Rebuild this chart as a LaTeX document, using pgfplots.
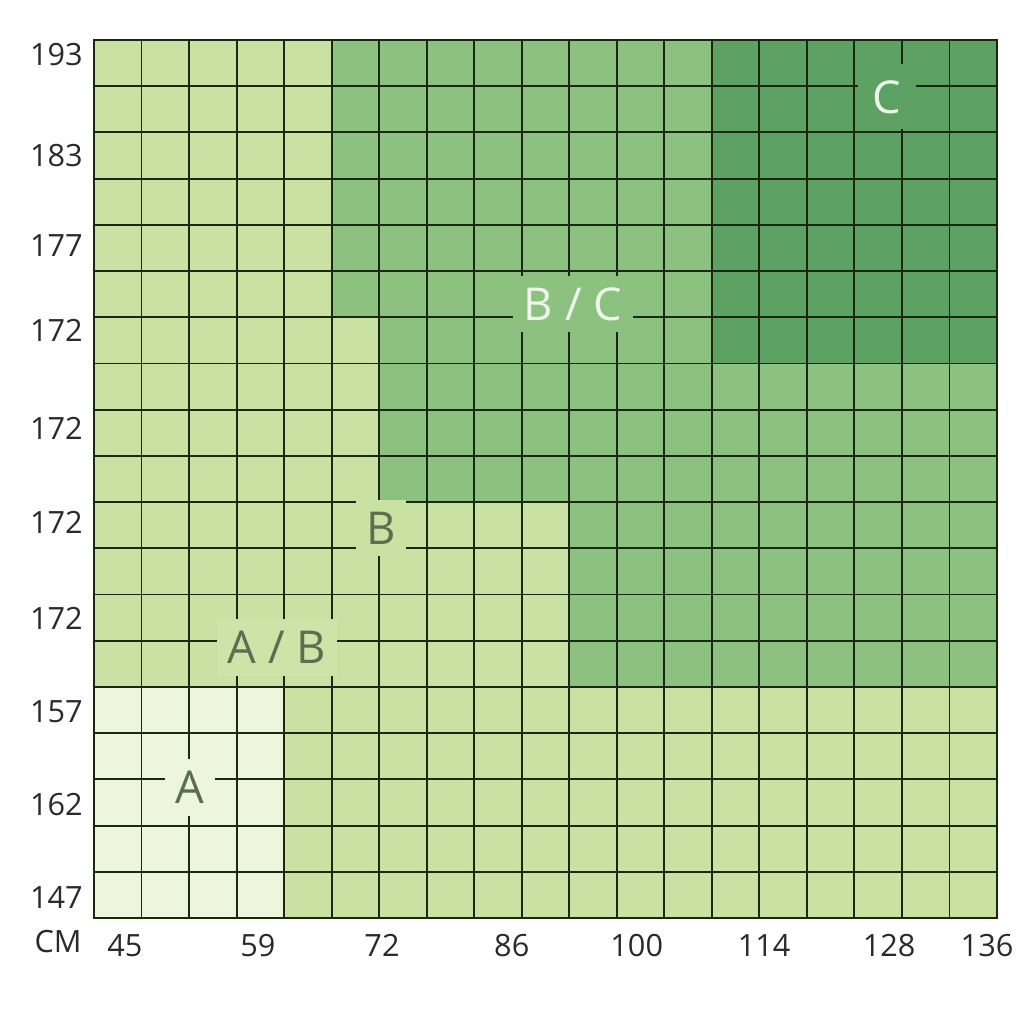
\documentclass[border=0pt]{standalone}
\usepackage{pgfplots}
\pgfplotsset{compat=1.18}
\usepackage{pgfplotstable}
\usepackage{fontspec}
\setmainfont{Open Sans}
\definecolor{cA}{HTML}{EDF5DC}
\definecolor{cL}{HTML}{C9E2A3}
\definecolor{cM}{HTML}{8DC180}
\definecolor{cD}{HTML}{5DA163}
\definecolor{gridc}{HTML}{1A2812}
\definecolor{tickc}{HTML}{2A2A2A}
\definecolor{labdark}{HTML}{5A6E50}
\definecolor{labwhite}{HTML}{EEF6EA}

% cell classes: 0 = A, 1 = B (light), 2 = B/C (medium), 3 = C (dark)
\pgfplotstableread[row sep=\\]{
x y c\\
0 0 0\\ 1 0 0\\ 2 0 0\\ 3 0 0\\ 4 0 1\\ 5 0 1\\ 6 0 1\\ 7 0 1\\ 8 0 1\\ 9 0 1\\ 10 0 1\\ 11 0 1\\ 12 0 1\\ 13 0 1\\ 14 0 1\\ 15 0 1\\ 16 0 1\\ 17 0 1\\ 18 0 1\\
0 1 0\\ 1 1 0\\ 2 1 0\\ 3 1 0\\ 4 1 1\\ 5 1 1\\ 6 1 1\\ 7 1 1\\ 8 1 1\\ 9 1 1\\ 10 1 1\\ 11 1 1\\ 12 1 1\\ 13 1 1\\ 14 1 1\\ 15 1 1\\ 16 1 1\\ 17 1 1\\ 18 1 1\\
0 2 0\\ 1 2 0\\ 2 2 0\\ 3 2 0\\ 4 2 1\\ 5 2 1\\ 6 2 1\\ 7 2 1\\ 8 2 1\\ 9 2 1\\ 10 2 1\\ 11 2 1\\ 12 2 1\\ 13 2 1\\ 14 2 1\\ 15 2 1\\ 16 2 1\\ 17 2 1\\ 18 2 1\\
0 3 0\\ 1 3 0\\ 2 3 0\\ 3 3 0\\ 4 3 1\\ 5 3 1\\ 6 3 1\\ 7 3 1\\ 8 3 1\\ 9 3 1\\ 10 3 1\\ 11 3 1\\ 12 3 1\\ 13 3 1\\ 14 3 1\\ 15 3 1\\ 16 3 1\\ 17 3 1\\ 18 3 1\\
0 4 0\\ 1 4 0\\ 2 4 0\\ 3 4 0\\ 4 4 1\\ 5 4 1\\ 6 4 1\\ 7 4 1\\ 8 4 1\\ 9 4 1\\ 10 4 1\\ 11 4 1\\ 12 4 1\\ 13 4 1\\ 14 4 1\\ 15 4 1\\ 16 4 1\\ 17 4 1\\ 18 4 1\\
0 5 1\\ 1 5 1\\ 2 5 1\\ 3 5 1\\ 4 5 1\\ 5 5 1\\ 6 5 1\\ 7 5 1\\ 8 5 1\\ 9 5 1\\ 10 5 2\\ 11 5 2\\ 12 5 2\\ 13 5 2\\ 14 5 2\\ 15 5 2\\ 16 5 2\\ 17 5 2\\ 18 5 2\\
0 6 1\\ 1 6 1\\ 2 6 1\\ 3 6 1\\ 4 6 1\\ 5 6 1\\ 6 6 1\\ 7 6 1\\ 8 6 1\\ 9 6 1\\ 10 6 2\\ 11 6 2\\ 12 6 2\\ 13 6 2\\ 14 6 2\\ 15 6 2\\ 16 6 2\\ 17 6 2\\ 18 6 2\\
0 7 1\\ 1 7 1\\ 2 7 1\\ 3 7 1\\ 4 7 1\\ 5 7 1\\ 6 7 1\\ 7 7 1\\ 8 7 1\\ 9 7 1\\ 10 7 2\\ 11 7 2\\ 12 7 2\\ 13 7 2\\ 14 7 2\\ 15 7 2\\ 16 7 2\\ 17 7 2\\ 18 7 2\\
0 8 1\\ 1 8 1\\ 2 8 1\\ 3 8 1\\ 4 8 1\\ 5 8 1\\ 6 8 1\\ 7 8 1\\ 8 8 1\\ 9 8 1\\ 10 8 2\\ 11 8 2\\ 12 8 2\\ 13 8 2\\ 14 8 2\\ 15 8 2\\ 16 8 2\\ 17 8 2\\ 18 8 2\\
0 9 1\\ 1 9 1\\ 2 9 1\\ 3 9 1\\ 4 9 1\\ 5 9 1\\ 6 9 2\\ 7 9 2\\ 8 9 2\\ 9 9 2\\ 10 9 2\\ 11 9 2\\ 12 9 2\\ 13 9 2\\ 14 9 2\\ 15 9 2\\ 16 9 2\\ 17 9 2\\ 18 9 2\\
0 10 1\\ 1 10 1\\ 2 10 1\\ 3 10 1\\ 4 10 1\\ 5 10 1\\ 6 10 2\\ 7 10 2\\ 8 10 2\\ 9 10 2\\ 10 10 2\\ 11 10 2\\ 12 10 2\\ 13 10 2\\ 14 10 2\\ 15 10 2\\ 16 10 2\\ 17 10 2\\ 18 10 2\\
0 11 1\\ 1 11 1\\ 2 11 1\\ 3 11 1\\ 4 11 1\\ 5 11 1\\ 6 11 2\\ 7 11 2\\ 8 11 2\\ 9 11 2\\ 10 11 2\\ 11 11 2\\ 12 11 2\\ 13 11 2\\ 14 11 2\\ 15 11 2\\ 16 11 2\\ 17 11 2\\ 18 11 2\\
0 12 1\\ 1 12 1\\ 2 12 1\\ 3 12 1\\ 4 12 1\\ 5 12 1\\ 6 12 2\\ 7 12 2\\ 8 12 2\\ 9 12 2\\ 10 12 2\\ 11 12 2\\ 12 12 2\\ 13 12 3\\ 14 12 3\\ 15 12 3\\ 16 12 3\\ 17 12 3\\ 18 12 3\\
0 13 1\\ 1 13 1\\ 2 13 1\\ 3 13 1\\ 4 13 1\\ 5 13 2\\ 6 13 2\\ 7 13 2\\ 8 13 2\\ 9 13 2\\ 10 13 2\\ 11 13 2\\ 12 13 2\\ 13 13 3\\ 14 13 3\\ 15 13 3\\ 16 13 3\\ 17 13 3\\ 18 13 3\\
0 14 1\\ 1 14 1\\ 2 14 1\\ 3 14 1\\ 4 14 1\\ 5 14 2\\ 6 14 2\\ 7 14 2\\ 8 14 2\\ 9 14 2\\ 10 14 2\\ 11 14 2\\ 12 14 2\\ 13 14 3\\ 14 14 3\\ 15 14 3\\ 16 14 3\\ 17 14 3\\ 18 14 3\\
0 15 1\\ 1 15 1\\ 2 15 1\\ 3 15 1\\ 4 15 1\\ 5 15 2\\ 6 15 2\\ 7 15 2\\ 8 15 2\\ 9 15 2\\ 10 15 2\\ 11 15 2\\ 12 15 2\\ 13 15 3\\ 14 15 3\\ 15 15 3\\ 16 15 3\\ 17 15 3\\ 18 15 3\\
0 16 1\\ 1 16 1\\ 2 16 1\\ 3 16 1\\ 4 16 1\\ 5 16 2\\ 6 16 2\\ 7 16 2\\ 8 16 2\\ 9 16 2\\ 10 16 2\\ 11 16 2\\ 12 16 2\\ 13 16 3\\ 14 16 3\\ 15 16 3\\ 16 16 3\\ 17 16 3\\ 18 16 3\\
0 17 1\\ 1 17 1\\ 2 17 1\\ 3 17 1\\ 4 17 1\\ 5 17 2\\ 6 17 2\\ 7 17 2\\ 8 17 2\\ 9 17 2\\ 10 17 2\\ 11 17 2\\ 12 17 2\\ 13 17 3\\ 14 17 3\\ 15 17 3\\ 16 17 3\\ 17 17 3\\ 18 17 3\\
0 18 1\\ 1 18 1\\ 2 18 1\\ 3 18 1\\ 4 18 1\\ 5 18 2\\ 6 18 2\\ 7 18 2\\ 8 18 2\\ 9 18 2\\ 10 18 2\\ 11 18 2\\ 12 18 2\\ 13 18 3\\ 14 18 3\\ 15 18 3\\ 16 18 3\\ 17 18 3\\ 18 18 3\\
}\cells

\begin{document}
\begin{tikzpicture}
\useasboundingbox (-70.5pt,-79.5pt) rectangle (697.5pt,688.5pt);
\begin{axis}[
  at={(0pt,0pt)}, anchor=south west,
  scale only axis, width=677.25pt, height=658.5pt,
  xmin=-0.5, xmax=18.5, ymin=-0.5, ymax=18.5,
  axis on top, clip=false,
  xtick={0.152,2.95,5.56,8.29,10.92,13.60,16.23,18.29},
  xticklabels={45,59,72,86,100,114,128,136},
  ytick={-0.05,1.95,3.96,5.99,8.07,10.10,12.22,14.06,16.01,18.18},
  yticklabels={147,162,157,172,172,172,172,177,183,193},
  minor xtick={-0.5,0.5,...,18.5},
  minor ytick={-0.5,0.5,...,18.5},
  grid=minor,
  minor grid style={draw=gridc, line width=1.4pt},
  major tick length=0pt, minor tick length=0pt,
  axis line style={draw=gridc, line width=1.9pt},
  tick label style={font=\fontsize{23}{27}\selectfont, text=tickc},
  xticklabel style={yshift=-9pt},
  yticklabel style={xshift=-5pt},
  colormap={cells}{color(0)=(cA) color(1)=(cL) color(2)=(cM) color(3)=(cD)},
  point meta min=0, point meta max=3,
]
\addplot[matrix plot*, mesh/cols=19, point meta=explicit] table[x=x, y=y, meta=c] {\cells};
\node[font=\fontsize{23}{27}\selectfont, text=tickc] at (axis cs:-1.257,-1.019) {CM};
\coordinate (lA) at (axis cs:1.52,2.33);
\coordinate (lAB) at (axis cs:3.35,5.36);
\coordinate (lB) at (axis cs:5.54,7.94);
\coordinate (lBC) at (axis cs:9.58,12.79);
\coordinate (lC) at (axis cs:16.18,17.27);
\end{axis}
\tikzset{lab/.style={font=\fontsize{34}{40}\selectfont, text height=24.5pt, text depth=0pt, inner xsep=8pt, inner ysep=9pt}}
\node[lab, fill=cA, text=labdark] at (lA) {A};
\node[lab, fill=cL!90!cA, text=labdark] at (lAB) {A / B};
\node[lab, fill=cL, text=labdark] at (lB) {B};
\node[lab, fill=cM, text=labwhite] at (lBC) {B / C};
\node[lab, fill=cD, text=labwhite, inner xsep=11pt, inner ysep=12pt] at (lC) {C};
\end{tikzpicture}
\end{document}
